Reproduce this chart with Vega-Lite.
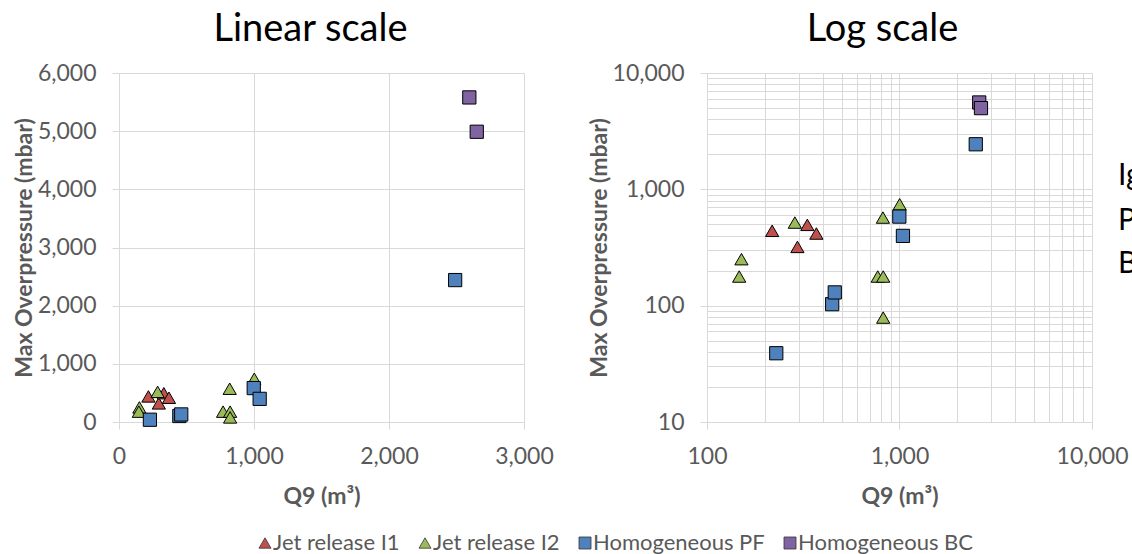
{
  "$schema": "https://vega.github.io/schema/vega-lite/v6.json",
  "autosize": {"type": "pad"},
  "padding": {"left": 13, "top": 11, "right": 0, "bottom": 0},
  "background": "#ffffff",
  "config": {
    "font": "Lato",
    "view": {"stroke": null},
    "axis": {
      "labelFont": "Lato", "labelFontSize": 23, "labelColor": "#595959",
      "titleFont": "Lato", "titleFontSize": 23, "titleFontWeight": "bold", "titleColor": "#595959",
      "gridColor": "#d9d9d9", "domainColor": "#d9d9d9", "tickColor": "#d9d9d9",
      "tickSize": 7, "labelPadding": 16, "domainWidth": 1, "gridWidth": 1, "tickWidth": 1
    },
    "axisX": {"titlePadding": 17, "labelFlush": false, "labelOverlap": false},
    "axisY": {"titlePadding": 1, "labelOverlap": false},
    "title": {"font": "Lato", "fontSize": 38, "fontWeight": "normal", "color": "#000000", "frame": "group", "anchor": "middle", "baseline": "alphabetic", "offset": 13},
    "legend": {
      "orient": "none", "legendX": 135, "legendY": 459, "direction": "horizontal",
      "labelFont": "Lato", "labelFontSize": 22, "labelColor": "#595959", "labelLimit": 400,
      "symbolSize": 144, "symbolStrokeColor": "#333333", "symbolStrokeWidth": 0.8,
      "labelOffset": -3, "columnPadding": 14, "padding": 0, "symbolOffset": 0
    }
  },
  "datasets": {
    "pts": [
      {"series": "Jet release I1", "q9": 218, "p": 440},
      {"series": "Jet release I1", "q9": 295, "p": 320},
      {"series": "Jet release I1", "q9": 332, "p": 495},
      {"series": "Jet release I1", "q9": 370, "p": 417},
      {"series": "Jet release I2", "q9": 151, "p": 251},
      {"series": "Jet release I2", "q9": 147, "p": 178},
      {"series": "Jet release I2", "q9": 286, "p": 518},
      {"series": "Jet release I2", "q9": 820, "p": 572},
      {"series": "Jet release I2", "q9": 1002, "p": 744},
      {"series": "Jet release I2", "q9": 771, "p": 178},
      {"series": "Jet release I2", "q9": 823, "p": 178},
      {"series": "Jet release I2", "q9": 823, "p": 79},
      {"series": "Homogeneous PF", "q9": 229, "p": 39},
      {"series": "Homogeneous PF", "q9": 447, "p": 103},
      {"series": "Homogeneous PF", "q9": 461, "p": 130},
      {"series": "Homogeneous PF", "q9": 998, "p": 583},
      {"series": "Homogeneous PF", "q9": 1042, "p": 398},
      {"series": "Homogeneous PF", "q9": 2490, "p": 2440},
      {"series": "Homogeneous BC", "q9": 2595, "p": 5580},
      {"series": "Homogeneous BC", "q9": 2650, "p": 4990}
    ],
    "notes": [
      {"label": "Ig", "q9": 13650, "p": 1091},
      {"label": "P", "q9": 13650, "p": 448},
      {"label": "B", "q9": 13650, "p": 191}
    ]
  },
  "bounds": "flush",
  "spacing": 183,
  "resolve": {"scale": {"color": "shared", "shape": "shared"}},
  "hconcat": [
    {
      "width": 405,
      "height": 349,
      "title": {"text": "Linear scale", "dx": -11},
      "data": {"name": "pts"},
      "mark": {"type": "point", "filled": true, "size": 175, "stroke": "#000000", "strokeWidth": 1, "opacity": 1},
      "encoding": {
        "x": {"field": "q9", "type": "quantitative",
          "scale": {"domain": [0, 3000], "nice": false, "zero": false},
          "axis": {"title": "Q9 (m³)", "values": [0, 1000, 2000, 3000], "labelExpr": "format(datum.value, ',')"}},
        "y": {"field": "p", "type": "quantitative",
          "scale": {"domain": [0, 6000], "nice": false},
          "axis": {"title": "Max Overpressure (mbar)", "values": [0, 1000, 2000, 3000, 4000, 5000, 6000], "labelExpr": "format(datum.value, ',')"}},
        "color": {"field": "series", "type": "nominal",
          "scale": {"domain": ["Jet release I1", "Jet release I2", "Homogeneous PF", "Homogeneous BC"], "range": ["#C0504D", "#9BBB59", "#4F81BD", "#8064A2"]},
          "legend": {"title": null}},
        "shape": {"field": "series", "type": "nominal",
          "scale": {"domain": ["Jet release I1", "Jet release I2", "Homogeneous PF", "Homogeneous BC"], "range": ["triangle-up", "triangle-up", "square", "square"]},
          "legend": {"title": null}}
      }
    },
    {
      "width": 385,
      "height": 349,
      "title": {"text": "Log scale", "dx": -17},
      "encoding": {
        "x": {"field": "q9", "type": "quantitative",
          "scale": {"type": "log", "domain": [100, 10000], "nice": false},
          "axis": {"title": "Q9 (m³)",
            "values": [100, 200, 300, 400, 500, 600, 700, 800, 900, 1000, 2000, 3000, 4000, 5000, 6000, 7000, 8000, 9000, 10000],
            "labelExpr": "indexof([100, 1000, 10000], datum.value) >= 0 ? format(datum.value, ',') : ''",
            "tickOpacity": {"condition": {"test": "indexof([100, 1000, 10000], datum.value) >= 0", "value": 1}, "value": 0}}},
        "y": {"field": "p", "type": "quantitative",
          "scale": {"type": "log", "domain": [10, 10000], "nice": false},
          "axis": {"title": "Max Overpressure (mbar)",
            "values": [10, 20, 30, 40, 50, 60, 70, 80, 90, 100, 200, 300, 400, 500, 600, 700, 800, 900, 1000, 2000, 3000, 4000, 5000, 6000, 7000, 8000, 9000, 10000],
            "labelExpr": "indexof([10, 100, 1000, 10000], datum.value) >= 0 ? format(datum.value, ',') : ''",
            "tickOpacity": {"condition": {"test": "indexof([10, 100, 1000, 10000], datum.value) >= 0", "value": 1}, "value": 0}}}
      },
      "layer": [
        {
          "data": {"name": "pts"},
          "mark": {"type": "point", "filled": true, "size": 175, "stroke": "#000000", "strokeWidth": 1, "opacity": 1},
          "encoding": {
            "color": {"field": "series", "type": "nominal",
              "scale": {"domain": ["Jet release I1", "Jet release I2", "Homogeneous PF", "Homogeneous BC"], "range": ["#C0504D", "#9BBB59", "#4F81BD", "#8064A2"]},
              "legend": {"title": null}},
            "shape": {"field": "series", "type": "nominal",
              "scale": {"domain": ["Jet release I1", "Jet release I2", "Homogeneous PF", "Homogeneous BC"], "range": ["triangle-up", "triangle-up", "square", "square"]},
              "legend": {"title": null}}
          }
        },
        {
          "data": {"name": "notes"},
          "mark": {"type": "text", "font": "Lato", "fontSize": 30, "color": "#000000", "align": "left", "baseline": "alphabetic"},
          "encoding": {"text": {"field": "label", "type": "nominal"}}
        }
      ]
    }
  ]
}
